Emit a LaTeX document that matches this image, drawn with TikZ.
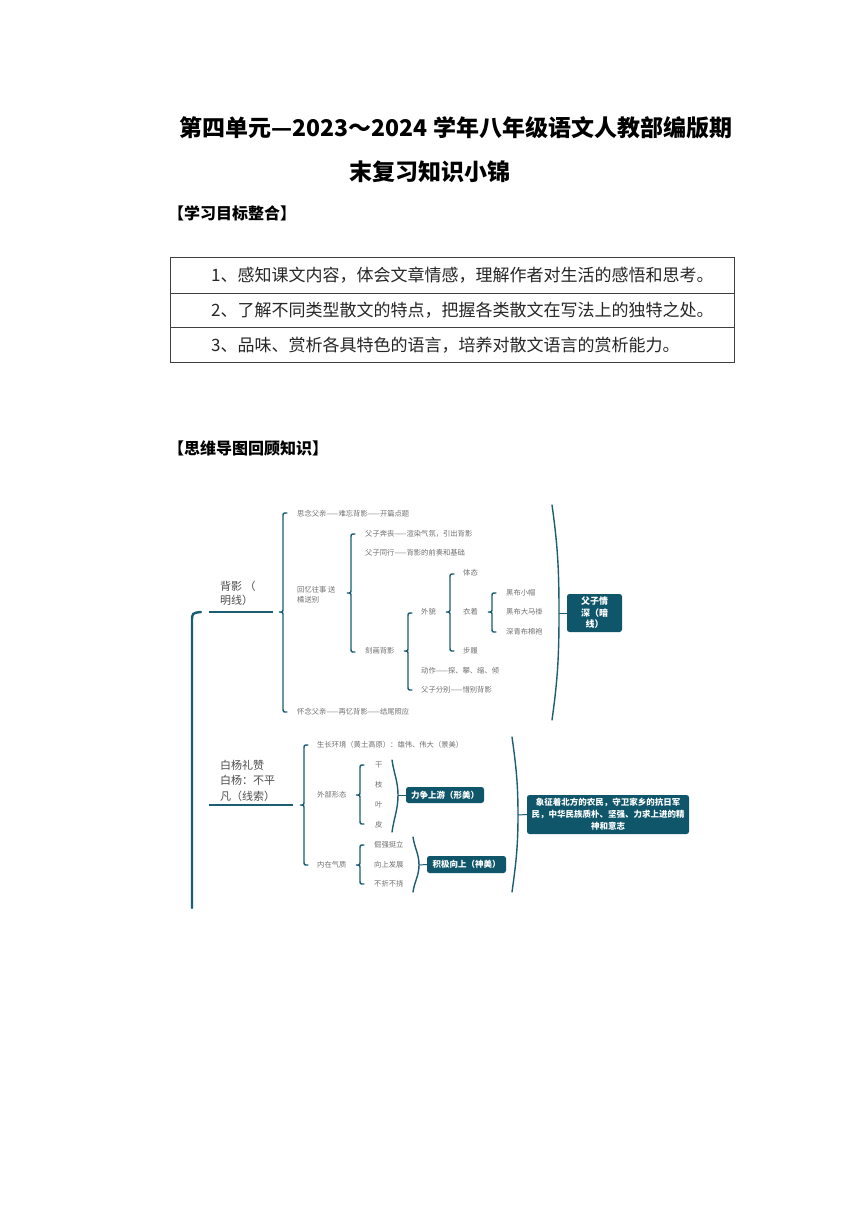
\documentclass[tikz,border=0pt]{standalone}
\usepackage{fontspec}
\setmainfont{Noto Sans CJK SC}
\definecolor{teal5}{HTML}{1B5E73}
\definecolor{boxc}{HTML}{0F566B}
\definecolor{txtgrey}{HTML}{707070}
\definecolor{lvgrey}{HTML}{4D4D4D}
\newcommand\mmBrace[4]{\draw[brc] ({#1+4},#2) .. controls (#1,#2) .. (#1,{#2+4}) -- (#1,{#3-4}) .. controls (#1,#3) .. ({#1-4},#3) .. controls (#1,#3) .. (#1,{#3+4}) -- (#1,{#4-4}) .. controls (#1,#4) .. ({#1+4},#4);}
\newcommand\mmParen[5]{\draw[brc] (#1,#2) to[out=-82,in=90] ({#1+#5},#3) to[out=-90,in=82] (#1,#4);}
\begin{document}
\begin{tikzpicture}[x=1pt,y=-1pt,
  sm/.style={anchor=west,inner sep=0pt,text=txtgrey,font=\fontsize{7.3}{10}\selectfont,align=left},
  lv/.style={anchor=west,inner sep=0pt,text=lvgrey,align=left},
  brc/.style={draw=teal5,line width=1.4pt,line cap=round},
  mainln/.style={draw=teal5,line width=2.4pt,line cap=round},
  brln/.style={draw=teal5,line width=1.8pt},
  tipln/.style={draw=teal5,line width=1pt},
  box/.style={fill=boxc,rounded corners=2.5pt,inner sep=0pt,text=white,font=\bfseries\fontsize{8.5}{12}\selectfont,align=center},
  tbl/.style={anchor=west,inner sep=0pt,font=\fontsize{17}{17}\selectfont,text=black!85},
  hd/.style={anchor=west,inner sep=0pt,font=\bfseries\fontsize{16}{16}\selectfont},
  ttl/.style={inner sep=0pt,font=\bfseries\fontsize{23}{23}\selectfont}
]
\fill[white] (0,0) rectangle (860,1216);
\useasboundingbox (0,0) rectangle (860,1216);

% title
\node[ttl] (t1) at (456,128) {第四单元—2023～2024 学年八年级语文人教部编版期};
\node[ttl] (t2) at (430,172) {末复习知识小锦};
\node[hd] (h1) at (168,213) {【学习目标整合】};

% table
\draw[black!75,line width=0.8pt] (170,257) rectangle (734,362);
\draw[black!75,line width=0.8pt] (170,293) -- (734,293);
\draw[black!75,line width=0.8pt] (170,327) -- (734,327);
\node[tbl] (r1) at (211,275) {1、感知课文内容，体会文章情感，理解作者对生活的感悟和思考。};
\node[tbl] (r2) at (211,310) {2、了解不同类型散文的特点，把握各类散文在写法上的独特之处。};
\node[tbl] (r3) at (211,345) {3、品味、赏析各具特色的语言，培养对散文语言的赏析能力。};

\node[hd] (h2) at (168,448) {【思维导图回顾知识】};

% ===== mind map =====
\draw[mainln] (192,908) -- (192,622) .. controls (192,613) .. (201,612);

% branch 1
\node[lv,font=\fontsize{11}{13.5}\selectfont] (by) at (220,593.5) {背影 （\\明线）};
\coordinate (a1) at (209,612);
\coordinate (a2) at (273,612);
\draw[brln] (a1) -- (a2);
\mmBrace{283}{513}{612}{712}
\node[sm] (n1) at (297,514) {思念父亲——难忘背影——开篇点题};
\node[sm] (n2) at (297,595) {回忆往事 送\\橘送别};
\node[sm] (n3) at (297,712) {怀念父亲——再忆背影——结尾照应};
\mmBrace{351}{534}{593}{652}
\node[sm] (n21) at (365,534) {父子奔丧——渲染气氛，引出背影};
\node[sm] (n22) at (365,553) {父子同行——背影的前奏和基础};
\node[sm] (n23) at (365,651) {刻画背影};
\mmBrace{408}{613}{651}{690}
\node[sm] (n31) at (421,612) {外貌};
\node[sm] (n32) at (421,671) {动作——探、攀、缩、倾};
\node[sm] (n33) at (421,690) {父子分别——惜别背影};
\mmBrace{450}{574}{612}{651}
\node[sm] (n41) at (463,573) {体态};
\node[sm] (n42) at (463,612) {衣着};
\node[sm] (n43) at (463,651) {步履};
\mmBrace{492}{593}{612}{632}
\node[sm] (n51) at (506,593) {黑布小帽};
\node[sm] (n52) at (506,612) {黑布大马褂};
\node[sm] (n53) at (506,632) {深青布棉袍};
\mmParen{552}{505}{613}{720}{7}
\coordinate (p1) at (559,613);
\node[box,minimum width=55pt,minimum height=38pt,font=\bfseries\fontsize{9}{11.5}\selectfont] (b1) at (594.5,613) {父子情\\深（暗\\线）};
\draw[tipln] (p1) -- (b1.west);

% branch 2
\node[lv,font=\fontsize{11}{15.5}\selectfont] (bt) at (220,780.5) {白杨礼赞\\白杨：不平\\凡（线索）};
\coordinate (c1) at (209,805);
\coordinate (c2) at (293,805);
\draw[brln] (c1) -- (c2);
\mmBrace{304}{745}{805}{865}
\node[sm] (m1) at (317,745) {生长环境（黄土高原）：雄伟、伟大（景美）};
\node[sm] (m2) at (317,795) {外部形态};
\node[sm] (m3) at (317,865) {内在气质};
\mmBrace{360}{765}{795}{824}
\node[sm] (m21) at (375,765) {干};
\node[sm] (m22) at (375,785) {枝};
\node[sm] (m23) at (375,805) {叶};
\node[sm] (m24) at (375,825) {皮};
\mmBrace{360}{845}{865}{884}
\node[sm] (m31) at (374,845) {倔强挺立};
\node[sm] (m32) at (374,865) {向上发展};
\node[sm] (m33) at (374,884) {不折不挠};
\mmParen{392}{760}{795}{832}{6}
\coordinate (p2) at (398,795);
\node[box,minimum width=78pt,minimum height=16pt] (b2) at (445,795) {力争上游（形美）};
\draw[tipln] (p2) -- (b2.west);
\mmParen{413}{837}{865}{892}{6}
\coordinate (p3) at (419,865);
\node[box,minimum width=79pt,minimum height=17pt] (b3) at (466.5,864.5) {积极向上（神美）};
\draw[tipln] (p3) -- (b3.west);
\mmParen{512}{737}{815}{892}{6}
\coordinate (p4) at (518,815);
\node[box,minimum width=162pt,minimum height=39pt] (b4) at (608,814.5) {象征着北方的农民，守卫家乡的抗日军\\民，中华民族质朴、坚强、力求上进的精\\神和意志};
\draw[tipln] (p4) -- (b4.west);
\end{tikzpicture}
\end{document}
